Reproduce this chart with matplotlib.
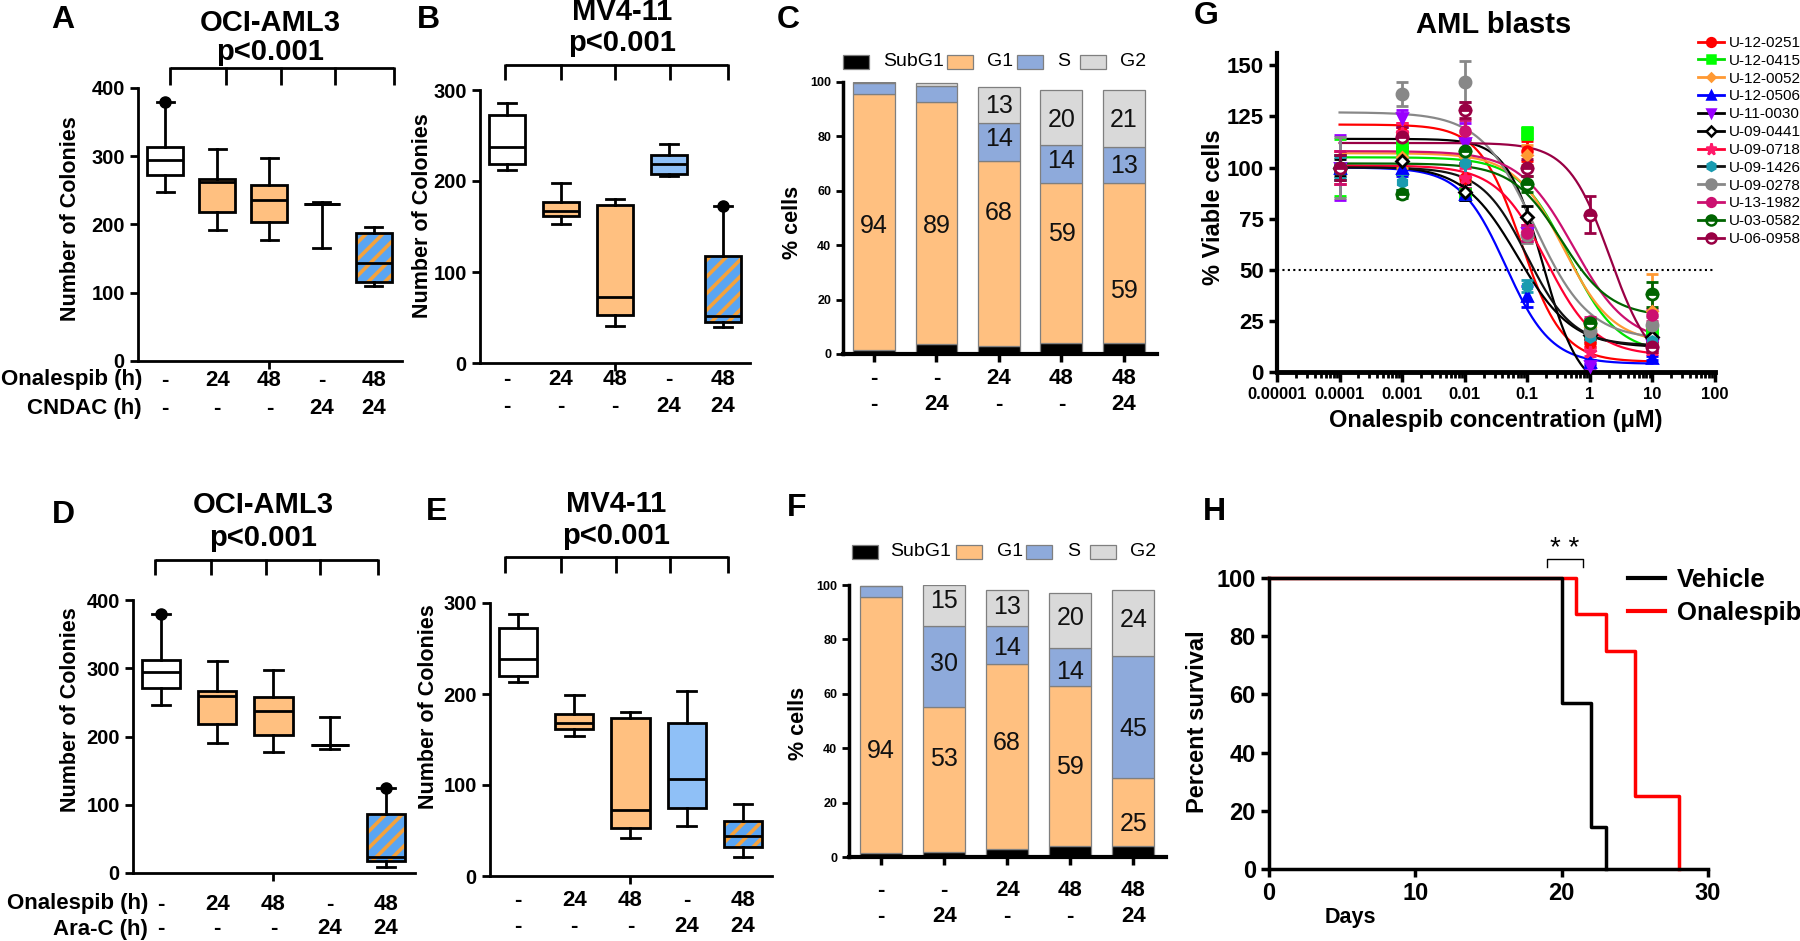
import numpy as np
import matplotlib
matplotlib.use("Agg")
import matplotlib.pyplot as plt
from matplotlib.patches import PathPatch, Rectangle
from matplotlib.lines import Line2D
from matplotlib.transforms import blended_transform_factory
from matplotlib.ticker import LogLocator, NullFormatter

plt.rcParams['font.family'] = ['Liberation Sans', 'DejaVu Sans']
plt.rcParams['hatch.linewidth'] = 2.6

# ---------------- data ----------------
treat_onalespib = ['-', '24', '48', '-', '48']
treat_second = ['-', '-', '-', '24', '24']
box_fills = ['white', 'orange', 'orange', 'blue', 'hatch']

# A: OCI-AML3 + CNDAC
A_whislo = [247, 192, 177, 165, 110]
A_q1 = [272, 219, 203, 230, 116]
A_med = [294, 262, 236, 230, 144]
A_q3 = [313, 267, 258, 230, 187]
A_whishi = [380, 310, 297, 233, 197]
A_fliers = [[380], [], [], [], []]

# B: MV4-11 + CNDAC
B_whislo = [212, 153, 41, 205, 40]
B_q1 = [219, 162, 53, 208, 45]
B_med = [237, 167, 73, 219, 52]
B_q3 = [272, 177, 174, 229, 118]
B_whishi = [286, 198, 180, 241, 172]
B_fliers = [[], [], [], [], [172]]

# D: OCI-AML3 + Ara-C
D_whislo = [246, 191, 177, 181, 9]
D_q1 = [271, 218, 202, 187, 17]
D_med = [295, 259, 237, 187, 24]
D_q3 = [312, 266, 258, 187, 86]
D_whishi = [380, 310, 298, 228, 124]
D_fliers = [[380], [], [], [], [124]]

# E: MV4-11 + Ara-C
E_whislo = [213, 154, 42, 55, 21]
E_q1 = [220, 162, 53, 75, 32]
E_med = [238, 168, 73, 107, 44]
E_q3 = [272, 178, 174, 168, 60]
E_whishi = [288, 199, 180, 203, 79]
E_fliers = [[], [], [], [], []]

# C / F: cell cycle (%)
phase_names = ['SubG1', 'G1', 'S', 'G2']
cc_onalespib = ['-', '-', '24', '48', '48']
cc_second = ['-', '24', '-', '-', '24']
C_subg1 = [1.5, 3.5, 3, 4, 4]
C_g1 = [94, 89, 68, 59, 59]
C_s = [4, 6, 14, 14, 13]
C_g2 = [0.5, 1, 13, 20, 21]
F_subg1 = [1.5, 2, 3, 4, 4]
F_g1 = [94, 53, 68, 59, 25]
F_s = [4, 30, 14, 14, 45]
F_g2 = [0.3, 15, 13, 20, 24]

# G: dose response in AML blasts
G_conc = [1e-4, 1e-3, 1e-2, 1e-1, 1, 10]
G_patients = ['U-12-0251', 'U-12-0415', 'U-12-0052', 'U-12-0506', 'U-11-0030', 'U-09-0441',
              'U-09-0718', 'U-09-1426', 'U-09-0278', 'U-13-1982', 'U-03-0582', 'U-06-0958']
G_viability = [
    [100, 117, 95, 108, 14, 12],
    [100, 110, 87, 117, 20, 19],
    [100, 105, 105, 106, 22, 30],
    [100, 100, 87, 37, 5, 7],
    [100, 124, 112, 68, 3, 13],
    [100, 103, 88, 76, 18, 17],
    [100, 117, 95, 68, 10, 12],
    [100, 93, 102, 42, 17, 15],
    [100, 136, 142, 67, 20, 23],
    [100, 115, 118, 68, 25, 28],
    [100, 87, 108, 92, 24, 38],
    [100, 115, 128, 100, 77, 12],
]
G_sem = [
    [8, 5, 6, 5, 2, 2],
    [14, 4, 3, 3, 2, 2],
    [8, 5, 12, 5, 2, 18],
    [6, 4, 3, 5, 1, 1],
    [16, 4, 10, 4, 1, 2],
    [4, 6, 4, 5, 2, 2],
    [8, 5, 5, 4, 2, 3],
    [5, 4, 6, 3, 2, 2],
    [15, 6, 10, 4, 3, 4],
    [8, 5, 5, 4, 2, 3],
    [6, 2, 6, 4, 2, 6],
    [6, 5, 4, 4, 9, 2],
]
# four-parameter logistic fits (top, bottom, EC50 in uM, Hill slope)
G_top = [121, 105, 107, 100, 114, 101, 101, 100, 127, 108, 102, 112]
G_bottom = [5, 9, 14, 4, -10, 12, 8, 13, 16, 14, 27, 0]
G_ec50 = [0.08, 0.45, 0.38, 0.045, 0.18, 0.07, 0.2, 0.1, 0.13, 0.55, 0.35, 2.1]
G_hill = [1.3, 1.1, 1.1, 1.2, 1.5, 1.0, 1.1, 1.2, 1.0, 1.0, 1.1, 1.3]

# H: Kaplan-Meier survival
H_vehicle_days = [0, 20, 22, 23]
H_vehicle_surv = [100, 57.1, 14.3, 0]
H_onal_days = [0, 21, 23, 25, 28]
H_onal_surv = [100, 87.5, 75, 25, 0]

# ---------------- style ----------------
ORANGE = '#FFC080'
BLUE_BOX = '#8FC0F7'
HATCH_BG = '#5AA5F2'
HATCH_FG = '#F5A23C'
S_COLOR = '#8EAADB'
G2_COLOR = '#D9D9D9'
LW = 2.0

W, H = 1800, 941
fig = plt.figure(figsize=(18, 9.41), dpi=100)


def ax_px(l, t, r, b):
    return fig.add_axes([l / W, 1 - b / H, (r - l) / W, (b - t) / H])


def fx(px):
    return px / W


def fy(py):
    return 1 - py / H


def ftext(x, y, s, **kw):
    fig.text(fx(x), fy(y), s, ha=kw.pop('ha', 'center'), va=kw.pop('va', 'center'), **kw)


def fline(xs, ys, lw=LW, color='black'):
    fig.add_artist(Line2D([fx(x) for x in xs], [fy(y) for y in ys], color=color, lw=lw,
                          transform=fig.transFigure, solid_capstyle='butt'))


def bracket(xs, ytop, ybot):
    fline([xs[0], xs[-1]], [ytop, ytop])
    for x in xs:
        fline([x, x], [ytop - 1, ybot])


def set_ylabel_center(ax, text, xc, yc, size):
    # place a rotated y label with its centre at (xc, yc) in figure pixels
    ax.set_ylabel('')
    ftext(xc, yc, text, rotation=90, fontsize=size, fontweight='bold')


def style_axes(ax, ylabsize):
    for s in ['top', 'right']:
        ax.spines[s].set_visible(False)
    for s in ['left', 'bottom']:
        ax.spines[s].set_linewidth(LW)
    ax.tick_params(axis='both', width=LW, length=6, labelsize=ylabsize)
    for lab in ax.get_yticklabels() + ax.get_xticklabels():
        lab.set_fontweight('bold')


def box_panel(rect, whislo, q1, med, q3, whishi, fliers, ymax, ystep, xlim, width, capw):
    ax = ax_px(*rect)
    stats = [dict(whislo=a, q1=b, med=c, q3=d, whishi=e, fliers=f)
             for a, b, c, d, e, f in zip(whislo, q1, med, q3, whishi, fliers)]
    pos = np.arange(1, len(stats) + 1)
    bp = ax.bxp(stats, positions=pos, widths=width, capwidths=capw, patch_artist=True,
                showfliers=True, manage_ticks=False,
                boxprops=dict(edgecolor='black', linewidth=LW),
                whiskerprops=dict(color='black', linewidth=LW),
                capprops=dict(color='black', linewidth=LW),
                medianprops=dict(color='black', linewidth=LW),
                flierprops=dict(marker='o', markerfacecolor='black', markeredgecolor='black',
                                markersize=8))
    for patch, fill in zip(bp['boxes'], box_fills):
        if fill == 'hatch':
            patch.set_facecolor(HATCH_BG)
            patch.set_edgecolor(HATCH_FG)
            patch.set_hatch('//')
            patch.set_linewidth(0)
            ax.add_patch(PathPatch(patch.get_path(), transform=ax.transData, fill=False,
                                   edgecolor='black', linewidth=LW, zorder=2.05))
        else:
            patch.set_facecolor({'white': 'white', 'orange': ORANGE, 'blue': BLUE_BOX}[fill])
    ax.set_ylim(0, ymax)
    ax.set_xlim(*xlim)
    ax.set_yticks(np.arange(0, ymax + 1, ystep))
    ax.set_xticks([3])
    ax.set_xticklabels([''])
    style_axes(ax, 14.5)
    return ax


def row_labels(ax, rows, ys, size=16):
    tr = blended_transform_factory(ax.transData, fig.transFigure)
    for row, y in zip(rows, ys):
        for i, s in enumerate(row):
            ax.text(i + 1, fy(y), s, transform=tr, ha='center', va='center',
                    fontsize=size, fontweight='bold')


# ---------------- A ----------------
axA = box_panel((138, 88, 402, 361), A_whislo, A_q1, A_med, A_q3, A_whishi, A_fliers,
                400, 100, (0.48, 5.54), 0.69, 0.33)
set_ylabel_center(axA, 'Number of Colonies', 70, 219, 15.5)
row_labels(axA, [treat_onalespib, treat_second], [380, 408])
ftext(142, 380, 'Onalespib (h)', ha='right', fontsize=16, fontweight='bold')
ftext(142, 408, 'CNDAC (h)', ha='right', fontsize=16, fontweight='bold')
ftext(270, 23, 'OCI-AML3', fontsize=21, fontweight='bold')
ftext(270, 52, 'p<0.001', fontsize=21, fontweight='bold')
bracket([170, 226, 281, 335, 394], 68, 85)
ftext(63, 20, 'A', fontsize=23, fontweight='bold')

# ---------------- B ----------------
axB = box_panel((480, 90, 750, 363), B_whislo, B_q1, B_med, B_q3, B_whishi, B_fliers,
                300, 100, (0.5, 5.5), 0.68, 0.33)
set_ylabel_center(axB, 'Number of Colonies', 423, 216, 15.5)
row_labels(axB, [treat_onalespib, treat_second], [379, 407])
ftext(622, 12, 'MV4-11', fontsize=21, fontweight='bold')
ftext(622, 43, 'p<0.001', fontsize=21, fontweight='bold')
bracket([505, 561, 615, 670, 728], 65, 80)
ftext(428, 20, 'B', fontsize=23, fontweight='bold')

# ---------------- D ----------------
axD = box_panel((133, 600, 415, 873), D_whislo, D_q1, D_med, D_q3, D_whishi, D_fliers,
                400, 100, (0.5, 5.52), 0.68, 0.33)
set_ylabel_center(axD, 'Number of Colonies', 70, 710, 15.5)
row_labels(axD, [treat_onalespib, treat_second], [904, 929])
ftext(148, 904, 'Onalespib (h)', ha='right', fontsize=16, fontweight='bold')
ftext(148, 929, 'Ara-C (h)', ha='right', fontsize=16, fontweight='bold')
ftext(263, 505, 'OCI-AML3', fontsize=21, fontweight='bold')
ftext(263, 538, 'p<0.001', fontsize=21, fontweight='bold')
bracket([155, 211, 266, 320, 378], 560, 575)
ftext(63, 515, 'D', fontsize=23, fontweight='bold')

# ---------------- E ----------------
axE = box_panel((490, 603, 772, 876), E_whislo, E_q1, E_med, E_q3, E_whishi, E_fliers,
                300, 100, (0.5, 5.52), 0.68, 0.33)
set_ylabel_center(axE, 'Number of Colonies', 428, 707, 15.5)
row_labels(axE, [treat_onalespib, treat_second], [901, 927])
ftext(616, 504, 'MV4-11', fontsize=21, fontweight='bold')
ftext(616, 536, 'p<0.001', fontsize=21, fontweight='bold')
bracket([505, 561, 616, 670, 728], 557, 573)
ftext(437, 512, 'E', fontsize=23, fontweight='bold')


# ---------------- C / F ----------------
def cc_panel(rect, xlim, subg1, g1, s, g2, g1_lab_y, s_lab_y, g2_lab_y):
    ax = ax_px(*rect)
    x = np.arange(1, 6)
    bottom = np.zeros(5)
    for vals, col in zip([subg1, g1, s, g2], ['black', ORANGE, S_COLOR, G2_COLOR]):
        ax.bar(x, vals, 0.67, bottom=bottom, color=col, edgecolor='#7f7f7f', linewidth=0.9)
        bottom = bottom + np.array(vals)
    for vals, ly in zip([g1, s, g2], [g1_lab_y, s_lab_y, g2_lab_y]):
        for xi, v, yy in zip(x, vals, ly):
            if v >= 10:
                ax.text(xi, yy, f'{v:g}', ha='center', va='center', fontsize=18, color='#111111')
    ax.set_xlim(*xlim)
    ax.set_ylim(0, 100)
    ax.set_yticks(np.arange(0, 101, 20))
    ax.set_xticks(x)
    ax.set_xticklabels([''] * 5)
    for sp in ['top', 'right']:
        ax.spines[sp].set_visible(False)
    ax.spines['left'].set_linewidth(2.5)
    ax.spines['bottom'].set_linewidth(3)
    ax.tick_params(axis='y', width=2, length=5, labelsize=9)
    ax.tick_params(axis='x', width=2.5, length=6)
    for lab in ax.get_yticklabels():
        lab.set_fontweight('bold')
    return ax


def cc_legend(xpatch, xtext, y):
    for xp, xt, col, name in zip(xpatch, xtext, ['black', ORANGE, S_COLOR, G2_COLOR], phase_names):
        fig.add_artist(Rectangle((fx(xp), fy(y + 7)), 26 / W, 14 / H, transform=fig.transFigure,
                                 facecolor=col, edgecolor='#7f7f7f', lw=0.9))
        ftext(xt, y, name, ha='left', fontsize=14)


axC = cc_panel((843, 82, 1157, 354), (0.504, 5.53), C_subg1, C_g1, C_s, C_g2,
               [47, 47, 52, 44, 23], [0, 0, 79, 71, 69], [0, 0, 91, 86, 86])
row_labels(axC, [cc_onalespib, cc_second], [378, 405])
set_ylabel_center(axC, '% cells', 792, 222, 15.5)
cc_legend([843, 947, 1017, 1080], [883, 987, 1057, 1120], 62)
ftext(788, 20, 'C', fontsize=23, fontweight='bold')

axF = cc_panel((849, 585, 1166, 857), (0.49, 5.52), F_subg1, F_g1, F_s, F_g2,
               [39, 36, 42, 33, 12], [0, 71, 77, 68, 47], [0, 94, 92, 88, 87])
row_labels(axF, [cc_onalespib, cc_second], [890, 917])
set_ylabel_center(axF, '% cells', 798, 723, 15.5)
cc_legend([852, 956, 1026, 1090], [890, 997, 1067, 1130], 552)
ftext(797, 508, 'F', fontsize=23, fontweight='bold')

# ---------------- G ----------------
G_line_colors = ['#FF0000', '#00E000', '#FF9933', '#0000FF', '#000000', '#000000',
                 '#FF0033', '#111111', '#888888', '#CC1070', '#006400', '#990044']
G_mark_colors = ['#FF0000', '#00FF00', '#FF9933', '#0000FF', '#9900FF', '#000000',
                 '#FF1A6A', '#1A9BB0', '#888888', '#CC1070', '#006400', '#990044']
G_markers = ['o', 's', 'D', '^', 'v', 'D', '*', 'h', 'o', 'o', 'o', 'o']
G_mfc = ['#FF0000', '#00FF00', '#FF9933', '#0000FF', '#9900FF', 'white',
         '#FF1A6A', '#1A9BB0', '#888888', '#CC1070', '#006400', '#990044']
G_fill = ['full'] * 10 + ['top', 'top']
G_msize = [7, 7, 5, 7, 7, 6, 9, 7, 8, 7, 8, 8]

axG = ax_px(1277, 53, 1715, 372)
axG.set_xscale('log')
xs = np.logspace(-4, 1, 300)
for i in range(len(G_patients)):
    yfit = G_bottom[i] + (G_top[i] - G_bottom[i]) / (1 + (xs / G_ec50[i]) ** G_hill[i])
    axG.plot(xs, yfit, color=G_line_colors[i], lw=1.6, zorder=2)
for i in range(len(G_patients)):
    axG.errorbar(G_conc, G_viability[i], yerr=G_sem[i], fmt=G_markers[i], color=G_mark_colors[i],
                 mfc=G_mfc[i], mec=G_mark_colors[i], mew=2, ms=G_msize[i], capsize=4,
                 fillstyle=G_fill[i], markerfacecoloralt='white',
                 elinewidth=2, capthick=2, zorder=3, clip_on=False)
axG.axhline(50, color='black', ls=(0, (1, 1.6)), lw=1.5, zorder=1)
axG.set_xlim(1e-5, 1e2)
axG.set_ylim(0, 156)
axG.set_yticks([0, 25, 50, 75, 100, 125, 150])
axG.set_xticks([1e-5, 1e-4, 1e-3, 1e-2, 1e-1, 1, 10, 100])
axG.set_xticklabels(['0.00001', '0.0001', '0.001', '0.01', '0.1', '1', '10', '100'])
axG.xaxis.set_minor_locator(LogLocator(base=10, subs=np.arange(2, 10)))
axG.xaxis.set_minor_formatter(NullFormatter())
for s in ['top', 'right']:
    axG.spines[s].set_visible(False)
axG.spines['left'].set_linewidth(3)
axG.spines['bottom'].set_linewidth(3.5)
axG.tick_params(axis='y', width=2.5, length=6, labelsize=16)
axG.tick_params(axis='x', which='major', width=2.5, length=7, labelsize=12)
axG.tick_params(axis='x', which='minor', width=2, length=4)
for lab in axG.get_yticklabels() + axG.get_xticklabels():
    lab.set_fontweight('bold')
set_ylabel_center(axG, '% Viable cells', 1213, 207, 17)
axG.set_xlabel('')
ftext(1496, 421, 'Onalespib concentration (μM)', fontsize=17, fontweight='bold')
handles = [Line2D([], [], color=G_line_colors[i], lw=2, marker=G_markers[i], ms=G_msize[i] * 0.9,
                  mfc=G_mfc[i], mec=G_mark_colors[i], mew=1.8, fillstyle=G_fill[i],
                  markerfacecoloralt='white') for i in range(len(G_patients))]
axG.legend(handles, G_patients, loc='upper left', bbox_to_anchor=(fx(1698), fy(36)),
           bbox_transform=fig.transFigure, frameon=False, fontsize=11, handlelength=1.7,
           handletextpad=0.3, labelspacing=0.25, borderaxespad=0, borderpad=0)
ftext(1494, 25, 'AML blasts', fontsize=21, fontweight='bold')
ftext(1206, 16, 'G', fontsize=23, fontweight='bold')

# ---------------- H ----------------
axH = ax_px(1269, 578, 1708, 869)
axH.step(H_onal_days, H_onal_surv, where='post', color='#FF0000', lw=2.5, clip_on=False)
axH.step(H_vehicle_days, H_vehicle_surv, where='post', color='black', lw=2.5, clip_on=False)
axH.set_xlim(0, 30)
axH.set_ylim(0, 100)
axH.set_xticks([0, 10, 20, 30])
axH.set_yticks(np.arange(0, 101, 20))
for s in ['top', 'right']:
    axH.spines[s].set_visible(False)
axH.spines['left'].set_linewidth(2.5)
axH.spines['bottom'].set_linewidth(2.5)
axH.tick_params(axis='both', width=2.5, length=6, labelsize=17)
for lab in axH.get_yticklabels() + axH.get_xticklabels():
    lab.set_fontweight('bold')
set_ylabel_center(axH, 'Percent survival', 1197, 722, 17)
ftext(1350, 918, 'Days', fontsize=15.5, fontweight='bold')
hh = [Line2D([], [], color='black', lw=3), Line2D([], [], color='#FF0000', lw=3)]
axH.legend(hh, ['Vehicle', 'Onalespib'], loc='upper left', bbox_to_anchor=(fx(1628), fy(568)),
           bbox_transform=fig.transFigure, frameon=False, prop=dict(weight='bold', size=18.5),
           handlelength=1.45, handletextpad=0.45, labelspacing=0.35, borderaxespad=0, borderpad=0)
# significance bracket
axH.plot([19, 19, 21.45, 21.45], [103.8, 106.5, 106.5, 103.8], color='black', lw=1, clip_on=False)
axH.text(20.2, 110, '* *', ha='center', va='center', fontsize=20, clip_on=False)
ftext(1214, 512, 'H', fontsize=23, fontweight='bold')

fig.savefig('out.png', dpi=100)
